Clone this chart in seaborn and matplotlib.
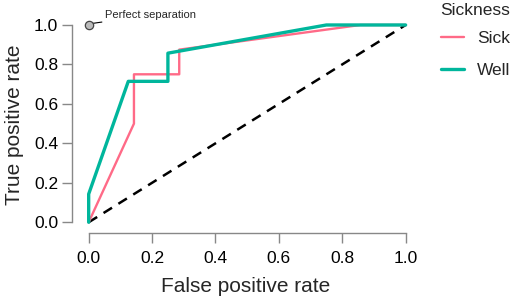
import matplotlib
matplotlib.use("Agg")
import matplotlib.pyplot as plt
import seaborn as sns
import pandas as pd
from matplotlib.lines import Line2D

# Data
sick_fpr = [0.0, 1/7, 1/7, 2/7, 2/7, 6/7, 1.0]
sick_tpr = [0.0, 0.5, 0.75, 0.75, 0.875, 1.0, 1.0]
well_fpr = [0.0, 0.0, 1/8, 2/8, 2/8, 6/8, 1.0]
well_tpr = [0.0, 1/7, 5/7, 5/7, 6/7, 1.0, 1.0]
groups = ["Sick", "Well"]
ticks = [0.0, 0.2, 0.4, 0.6, 0.8, 1.0]
tick_labels = ["0.0", "0.2", "0.4", "0.6", "0.8", "1.0"]

sns.set_style("white")
plt.rcParams["font.family"] = ["Liberation Sans", "DejaVu Sans"]

fig = plt.figure(figsize=(5.12, 3.03), dpi=100)
ax = fig.add_axes([0.141, 0.230, 0.676, 0.7136])

palette = {"Sick": "#FF6A87", "Well": "#00B69C"}
widths = {"Sick": 1.7, "Well": 2.4}

ax.plot([0, 1], [0, 1], color="black", linestyle=(0, (4, 3)), linewidth=1.8, zorder=1)

sns.lineplot(x=sick_fpr, y=sick_tpr, sort=False, estimator=None, ax=ax,
             color=palette["Sick"], linewidth=widths["Sick"], zorder=2)
sns.lineplot(x=well_fpr, y=well_tpr, sort=False, estimator=None, ax=ax,
             color=palette["Well"], linewidth=widths["Well"], zorder=3)

# perfect separation marker
ax.plot([0], [1], marker="o", markersize=6, markerfacecolor="#bbbbbb",
        markeredgecolor="#444444", markeredgewidth=0.9, clip_on=False, zorder=4)
ax.annotate("Perfect separation", xy=(0.012, 1.008), xytext=(0.052, 1.05),
            fontsize=8, va="center", ha="left",
            arrowprops=dict(arrowstyle="-", color="black", lw=0.8, shrinkA=0, shrinkB=0),
            annotation_clip=False)

ax.set_xlim(-0.052, 1.04)
ax.set_ylim(-0.056, 1.04)
sns.despine(ax=ax)
for s in ["left", "bottom"]:
    ax.spines[s].set_color("#888888")
    ax.spines[s].set_linewidth(1.0)
ax.spines["left"].set_position(("data", -0.052))
ax.spines["bottom"].set_position(("data", -0.056))
ax.spines["left"].set_bounds(0, 1)
ax.spines["bottom"].set_bounds(0, 1)
ax.set_xticks(ticks)
ax.set_xticklabels(tick_labels)
ax.set_yticks(ticks)
ax.set_yticklabels(tick_labels)
ax.tick_params(axis="both", which="both", length=7, width=1.0, color="#888888",
               labelsize=12.5, labelcolor="black", left=True, bottom=True)
ax.tick_params(axis="y", pad=3)
ax.tick_params(axis="x", pad=6)
ax.set_xlabel("False positive rate", fontsize=15, labelpad=8)
ax.set_ylabel("True positive rate", fontsize=15, labelpad=7)

handles = [Line2D([0], [0], color=palette["Sick"], lw=widths["Sick"]),
           Line2D([0], [0], color=palette["Well"], lw=widths["Well"])]
leg = fig.legend(handles, groups, title="Sickness", loc="upper left",
                 bbox_to_anchor=(0.857, 0.995), frameon=False, fontsize=12.5,
                 title_fontsize=12.5, handlelength=1.35, handletextpad=0.75,
                 labelspacing=1.0, borderaxespad=0, borderpad=0.1)
leg._legend_box.align = "left"
leg._legend_box.sep = 9

fig.savefig("out.png", dpi=100)
